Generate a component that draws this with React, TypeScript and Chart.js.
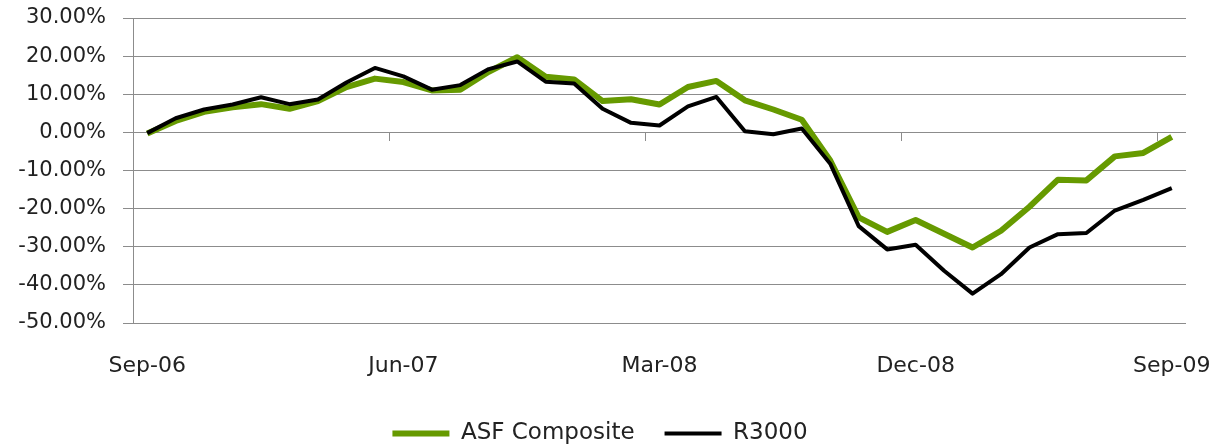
import React, { useEffect, useRef } from "react";
import { Chart, registerables } from "chart.js";

Chart.register(...registerables);

const months = [
  "Sep-06", "Oct-06", "Nov-06", "Dec-06", "Jan-07", "Feb-07", "Mar-07", "Apr-07", "May-07",
  "Jun-07", "Jul-07", "Aug-07", "Sep-07", "Oct-07", "Nov-07", "Dec-07", "Jan-08", "Feb-08",
  "Mar-08", "Apr-08", "May-08", "Jun-08", "Jul-08", "Aug-08", "Sep-08", "Oct-08", "Nov-08",
  "Dec-08", "Jan-09", "Feb-09", "Mar-09", "Apr-09", "May-09", "Jun-09", "Jul-09", "Aug-09",
  "Sep-09",
];

const asfComposite = [
  -0.3, 3.0, 5.4, 6.6, 7.4, 6.2, 8.2, 11.9, 14.1, 13.2, 11.0, 11.2, 15.9, 19.7, 14.6, 13.9,
  8.2, 8.7, 7.3, 11.9, 13.5, 8.4, 6.0, 3.3, -7.4, -22.3, -26.1, -23.0, -26.6, -30.2, -25.8,
  -19.5, -12.4, -12.6, -6.3, -5.4, -1.2,
];

const r3000 = [
  -0.2, 3.7, 6.0, 7.3, 9.2, 7.4, 8.6, 13.1, 16.9, 14.7, 11.2, 12.4, 16.6, 18.6, 13.3, 12.8,
  6.2, 2.5, 1.8, 6.8, 9.3, 0.3, -0.5, 1.0, -8.2, -24.6, -30.7, -29.5, -36.3, -42.3, -37.2,
  -30.2, -26.7, -26.4, -20.5, -17.7, -14.6,
];

const yMin = -50;
const yMax = 30;
const yStep = 10;
const labelEvery = 9;

const FONT = "'DejaVu Sans', 'Open Sans', sans-serif";
const GRID = "#8c8c8c";
const GREEN = "#669a00";
const TEXT = "#222222";

const W = 1211;
const H = 455;

export default function App() {
  const ref = useRef<HTMLCanvasElement | null>(null);

  useEffect(() => {
    if (!ref.current) return;
    const chart = new Chart(ref.current, {
      type: "line",
      data: {
        labels: months,
        datasets: [
          {
            label: "ASF Composite",
            data: asfComposite,
            borderColor: GREEN,
            backgroundColor: GREEN,
            borderWidth: 6,
            pointRadius: 0,
            tension: 0,
            borderJoinStyle: "round",
            order: 1,
          },
          {
            label: "R3000",
            data: r3000,
            borderColor: "#000000",
            backgroundColor: "#000000",
            borderWidth: 4,
            pointRadius: 0,
            tension: 0,
            borderJoinStyle: "round",
            order: 0,
          },
        ],
      },
      options: {
        animation: false,
        responsive: false,
        devicePixelRatio: 1,
        layout: { padding: { top: 18, right: 25, left: 14, bottom: 0 } },
        plugins: {
          tooltip: { enabled: false },
          legend: {
            position: "bottom",
            labels: {
              usePointStyle: true,
              pointStyle: "line",
              pointStyleWidth: 57,
              padding: 30,
              color: TEXT,
              font: { family: FONT, size: 23 },
              sort: (a: any, b: any) => a.datasetIndex - b.datasetIndex,
            },
          },
        },
        scales: {
          x: {
            type: "category",
            offset: true,
            grid: { display: false },
            border: { display: false },
            ticks: {
              autoSkip: false,
              maxRotation: 0,
              padding: 22,
              color: TEXT,
              font: { family: FONT, size: 22 },
              callback: (_v: any, i: number) => (i % labelEvery === 0 ? months[i] : ""),
            },
            afterFit: (s: any) => {
              s.height = 69;
              s.paddingLeft = 0;
              s.paddingRight = 0;
            },
          },
          x2: {
            type: "category",
            axis: "x",
            position: { y: 0 },
            offset: true,
            grid: {
              offset: true,
              drawOnChartArea: false,
              drawTicks: true,
              tickLength: 9,
              lineWidth: 1,
              color: (ctx: any) => (ctx.index % labelEvery === 0 ? GRID : "rgba(0,0,0,0)"),
            },
            border: { display: false },
            ticks: { display: false, autoSkip: false },
            afterFit: (s: any) => {
              s.paddingLeft = 0;
              s.paddingRight = 0;
            },
          },
          y: {
            min: yMin,
            max: yMax,
            grid: { color: GRID, lineWidth: 1, tickLength: 10 },
            border: { color: GRID, width: 1 },
            ticks: {
              stepSize: yStep,
              padding: 17,
              color: TEXT,
              font: { family: FONT, size: 21 },
              callback: (v: any) => Number(v).toFixed(2) + "%",
            },
            afterFit: (s: any) => {
              s.width = 119;
              s.paddingTop = 0;
              s.paddingBottom = 0;
            },
          },
        },
      },
    });
    return () => chart.destroy();
  }, []);

  return (
    <div style={{ position: "fixed", left: 0, top: 0, width: W, height: H, background: "#fff" }}>
      <canvas ref={ref} width={W} height={H} style={{ width: W, height: H }} />
    </div>
  );
}
